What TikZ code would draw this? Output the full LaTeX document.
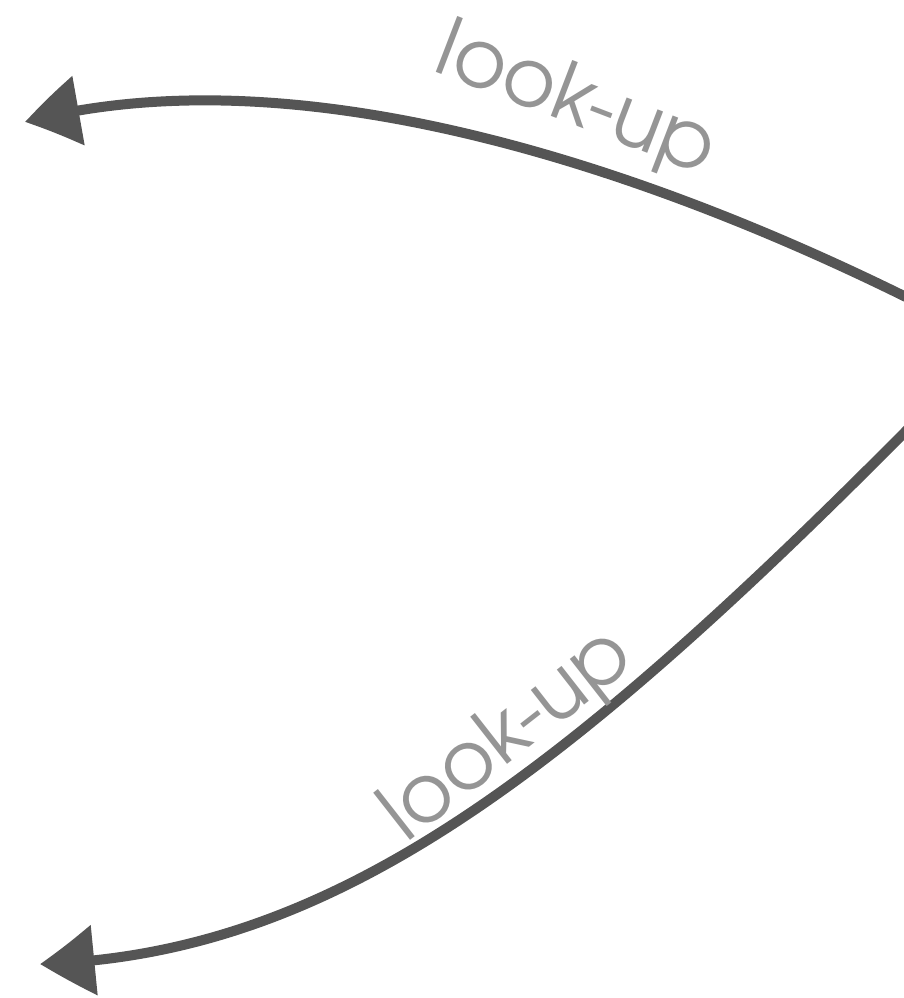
\documentclass[tikz,border=0pt]{standalone}
\usepackage{fontspec}
\setmainfont{TeX Gyre Adventor}
\usetikzlibrary{arrows.meta,bending}
\definecolor{chalk}{HTML}{555555}
\definecolor{labelgray}{HTML}{959595}
\tikzset{
  chalkarrow/.style={draw=chalk, line width=10pt, line cap=round,
    -{Triangle[length=55pt,width=68pt,bend]}},
  lookup/.style={text=labelgray, font=\fontsize{81}{81}\selectfont, inner sep=0pt}
}
\begin{document}
\begin{tikzpicture}[x=1pt,y=-1pt]
\useasboundingbox (0,0) rectangle (903,998);
\coordinate (topstart) at (912,300);
\coordinate (topend) at (25,122);
\coordinate (botstart) at (912,425);
\coordinate (botend) at (40,964);
\draw[chalkarrow] (topstart) .. controls (650,170) and (300,50) .. (topend);
\draw[chalkarrow] (botstart) .. controls (560,780) and (330,955) .. (botend);
\node[lookup, rotate=-21] (lab1) at (576,102) {look-up};
\node[lookup, rotate=38] (lab2) at (508,736) {look-up};
\end{tikzpicture}
\end{document}
